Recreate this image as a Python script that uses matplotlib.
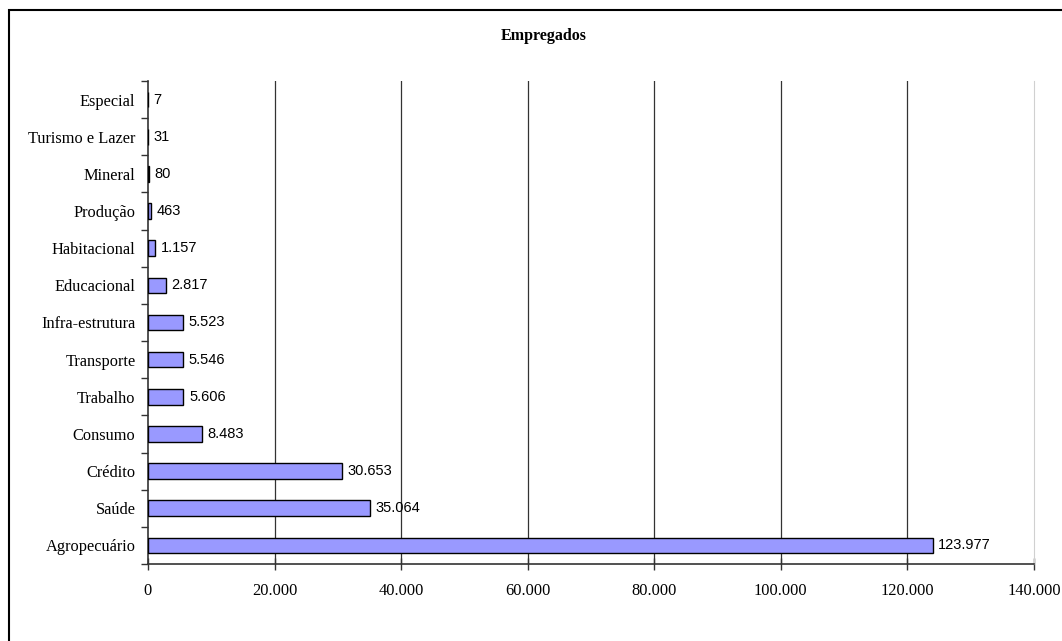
import matplotlib.pyplot as plt
from matplotlib.ticker import FuncFormatter, MultipleLocator, FixedLocator
from matplotlib.patches import Rectangle

# categorias (de baixo para cima) e numero de empregados
categorias = ['Agropecuário', 'Saúde', 'Crédito', 'Consumo', 'Trabalho', 'Transporte',
              'Infra-estrutura', 'Educacional', 'Habitacional', 'Produção', 'Mineral',
              'Turismo e Lazer', 'Especial']
empregados = [123977, 35064, 30653, 8483, 5606, 5546, 5523, 2817, 1157, 463, 80, 31, 7]


def milhar(v):
    return f'{int(v):,}'.replace(',', '.')


fig = plt.figure(figsize=(10.62, 6.41), dpi=100)
ax = fig.add_axes([148 / 1062, 1 - 564 / 641, (1034 - 148) / 1062, (564 - 81) / 641])

pos = list(range(len(categorias)))
ax.barh(pos, empregados, height=0.42, color='#9999FF', edgecolor='black', linewidth=1, zorder=3)

for y, v in zip(pos, empregados):
    ax.text(v + 900, y, milhar(v), va='center', ha='left', fontsize=10.5,
            family='Liberation Sans', zorder=4)

ax.set_xlim(0, 140000)
ax.set_ylim(-0.5, len(categorias) - 0.5)
ax.xaxis.set_major_locator(MultipleLocator(20000))
ax.xaxis.set_major_formatter(FuncFormatter(lambda v, p: milhar(v)))
for x in range(20000, 140000, 20000):
    ax.axvline(x, color='#333333', linewidth=0.9, zorder=1)

ax.set_yticks(pos)
ax.set_yticklabels(categorias)
ax.yaxis.set_minor_locator(FixedLocator([p - 0.5 for p in pos] + [len(pos) - 0.5]))
ax.tick_params(axis='y', which='major', length=0, pad=9)
ax.tick_params(axis='y', which='minor', length=5, width=1, color='#333333')
ax.tick_params(axis='x', which='major', direction='inout', length=8, width=1,
               color='#333333', pad=10)

for lbl in ax.get_xticklabels() + ax.get_yticklabels():
    lbl.set_family('Liberation Serif')
    lbl.set_fontsize(11.8)

for s in ['left', 'bottom']:
    ax.spines[s].set_color('#333333')
    ax.spines[s].set_linewidth(1.2)
ax.spines['right'].set_color('#d0d0d0')
ax.spines['top'].set_visible(False)

fig.text(544 / 1062, 1 - 36 / 641, 'Empregados', ha='center', va='center',
         fontsize=11.5, fontweight='bold', family='Liberation Serif')

# moldura da area do grafico
fig.patches.append(Rectangle((9 / 1062, -0.1), 1.2, 1 - 10 / 641 + 0.1,
                             transform=fig.transFigure, fill=False,
                             edgecolor='black', linewidth=1.5))

fig.savefig('out.png', dpi=100)
